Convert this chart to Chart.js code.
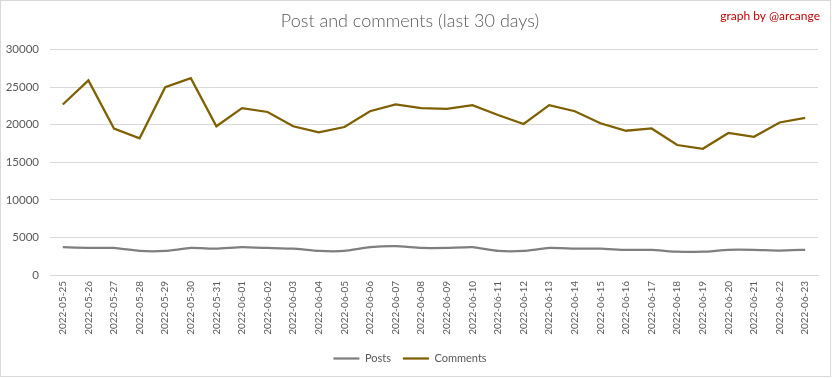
<!DOCTYPE html>
<html>
<head>
<meta charset="utf-8">
<script src="https://cdn.jsdelivr.net/npm/chart.js@4/dist/chart.umd.min.js"></script>
<style>
html,body{margin:0;padding:0;background:#fff;}
#wrap{position:relative;width:832px;height:378px;}
canvas{display:block;}
</style>
</head>
<body>
<div id="wrap"><canvas id="c" width="832" height="378"></canvas></div>
<script>
const categories = ["2022-05-25","2022-05-26","2022-05-27","2022-05-28","2022-05-29","2022-05-30","2022-05-31","2022-06-01","2022-06-02","2022-06-03","2022-06-04","2022-06-05","2022-06-06","2022-06-07","2022-06-08","2022-06-09","2022-06-10","2022-06-11","2022-06-12","2022-06-13","2022-06-14","2022-06-15","2022-06-16","2022-06-17","2022-06-18","2022-06-19","2022-06-20","2022-06-21","2022-06-22","2022-06-23"];
const posts = [3700,3600,3600,3200,3200,3600,3500,3700,3600,3500,3200,3200,3700,3850,3600,3600,3700,3200,3200,3600,3500,3500,3350,3350,3100,3100,3350,3350,3250,3350];
const comments = [22700,25900,19500,18200,25000,26200,19800,22200,21700,19800,19000,19700,21800,22700,22200,22100,22600,21300,20100,22600,21800,20200,19200,19500,17300,16800,18900,18400,20300,20900];
const yTicks = [0,5000,10000,15000,20000,25000,30000];
const titleText = "Post and comments (last 30 days)";
const creditText = "graph by @arcange";

const FONT = "Lato, 'Open Sans', sans-serif";

const frame = {
  id: 'frame',
  afterDraw(chart) {
    const ctx = chart.ctx;
    ctx.save();
    ctx.strokeStyle = '#d9d9d9';
    ctx.lineWidth = 1;
    ctx.strokeRect(0.5, 0.5, 830, 376);
    ctx.fillStyle = '#c00000';
    ctx.font = "12px " + FONT;
    ctx.textAlign = 'right';
    ctx.textBaseline = 'middle';
    ctx.fillText(creditText, 820, 16);
    ctx.restore();
  }
};

new Chart(document.getElementById('c'), {
  type: 'line',
  data: {
    labels: categories,
    datasets: [
      {label: 'Posts', data: posts, borderColor: '#7f7f7f', backgroundColor: '#7f7f7f', borderWidth: 2.25, pointRadius: 0, tension: 0.15, fill: false},
      {label: 'Comments', data: comments, borderColor: '#7f6000', backgroundColor: '#7f6000', borderWidth: 2.25, pointRadius: 0, tension: 0, fill: false}
    ]
  },
  options: {
    responsive: false,
    animation: false,
    layout: {padding: {left: 2, right: 14, top: 0, bottom: 4}},
    plugins: {
      title: {display: true, text: titleText, color: '#595959', font: {family: FONT, size: 18, weight: '300'}, padding: {top: 10, bottom: 18}},
      legend: {
        position: 'bottom',
        labels: {color: '#595959', font: {family: FONT, size: 11}, usePointStyle: true, pointStyle: 'line', pointStyleWidth: 26, boxWidth: 26, padding: 12}
      },
      tooltip: {enabled: false}
    },
    scales: {
      x: {
        type: 'category',
        offset: true,
        grid: {display: false, drawTicks: false},
        border: {display: true, color: '#d9d9d9'},
        afterFit(axis) { axis.height = 66; },
        ticks: {color: '#595959', font: {family: FONT, size: 10}, minRotation: 90, maxRotation: 90, autoSkip: false, padding: 6}
      },
      y: {
        min: 0, max: 30000,
        afterBuildTicks(axis) { axis.ticks = yTicks.map(v => ({value: v})); },
        afterFit(axis) { axis.width = 48; },
        grid: {color: '#d9d9d9', drawTicks: false},
        border: {display: false},
        ticks: {color: '#595959', font: {family: FONT, size: 11.5}, padding: 11, callback: (v) => String(v)}
      }
    }
  },
  plugins: [frame]
});
</script>
</body>
</html>
